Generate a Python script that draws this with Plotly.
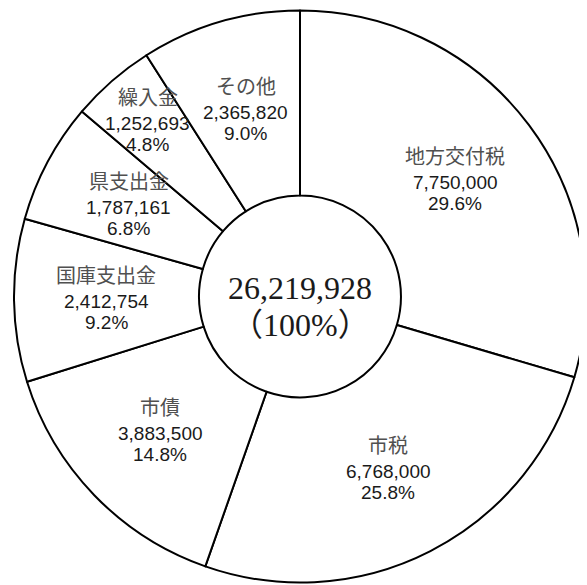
import math
import plotly.graph_objects as go

categories = ["地方交付税", "市税", "市債", "国庫支出金", "県支出金", "繰入金", "その他"]
values = [7750000, 6768000, 3883500, 2412754, 1787161, 1252693, 2365820]

total = sum(values)

# the page body has an 8px default margin, so the figure is sized to fit the window
W, H = 579, 577
ML, MR, MT, MB = 6, 1, 2, 2
PW, PH = W - ML - MR, H - MT - MB

fig = go.Figure(go.Pie(
    labels=categories,
    values=values,
    sort=False,
    direction="clockwise",
    hole=0.353,
    textinfo="none",
    hoverinfo="label+value+percent",
    marker=dict(colors=["white"] * len(values), line=dict(color="black", width=2)),
    showlegend=False,
))

name_font = dict(family="Noto Sans CJK JP", size=20, color="#505050")
num_font = dict(family="Liberation Sans Narrow, Liberation Sans, Arial", size=19, color="#1a1a1a")

annotations = []
cum = 0.0
for name, v in zip(categories, values):
    frac = v / total
    mid = (cum + frac / 2) * 2 * math.pi
    cum += frac
    r = 194
    if name == "繰入金":
        r = 232
    x = 0.5 + r * math.sin(mid) / PW
    y = 0.5 + r * math.cos(mid) / PH
    pct = f"{frac * 100:.1f}%"
    common = dict(x=x, y=y, xref="paper", yref="paper", showarrow=False,
                  xanchor="center", yanchor="middle")
    annotations.append(dict(text=name, font=name_font, yshift=25, **common))
    annotations.append(dict(text=f"{v:,}", font=num_font, yshift=-2, **common))
    annotations.append(dict(text=pct, font=num_font, yshift=-23, **common))

center_font = dict(family="Liberation Serif, Noto Sans CJK JP", size=32, color="#1a1a1a")
annotations.append(dict(x=0.5, y=0.5, xref="paper", yref="paper", text=f"{total:,}",
                        showarrow=False, font=center_font, yshift=9,
                        xanchor="center", yanchor="middle"))
annotations.append(dict(x=0.5, y=0.5, xref="paper", yref="paper", text="（100%）",
                        showarrow=False, font=center_font, yshift=-28,
                        xanchor="center", yanchor="middle"))

fig.update_layout(
    width=W, height=H,
    margin=dict(l=ML, r=MR, t=MT, b=MB),
    paper_bgcolor="white",
    plot_bgcolor="white",
    annotations=annotations,
)

fig.write_html("out.html")
